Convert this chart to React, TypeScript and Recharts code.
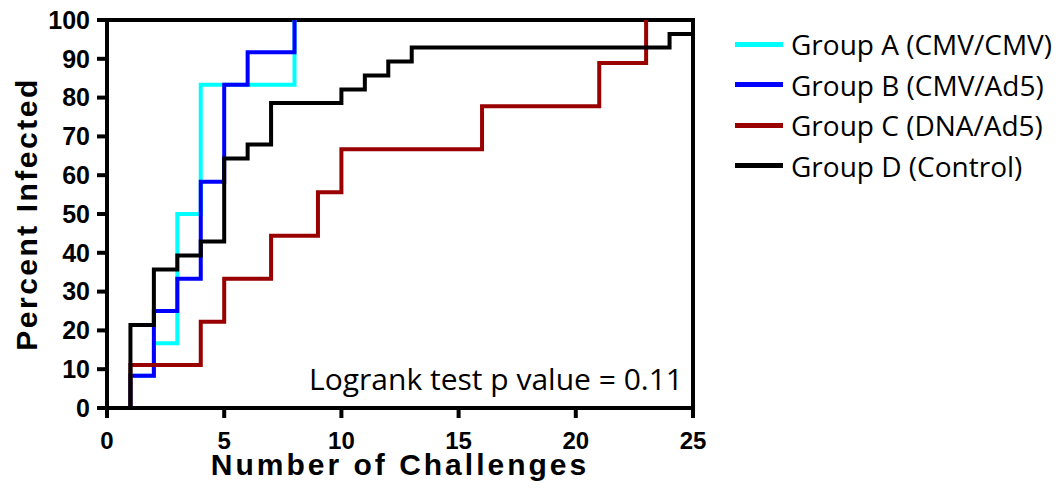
import {
  LineChart,
  Line,
  XAxis,
  YAxis,
  ReferenceArea,
  Legend,
} from "recharts";

// step points (challenge number, % infected)
const groupAX = [0, 1, 2, 3, 4, 8];
const groupAY = [0, 8.3, 16.7, 50, 83.3, 100];

const groupBX = [0, 1, 2, 3, 4, 5, 6, 8];
const groupBY = [0, 8.3, 25, 33.3, 58.3, 83.3, 91.7, 100];

const groupCX = [0, 1, 4, 5, 7, 9, 10, 16, 21, 23];
const groupCY = [0, 11.1, 22.2, 33.3, 44.4, 55.6, 66.7, 77.8, 88.9, 100];

const groupDX = [0, 1, 2, 3, 4, 5, 6, 7, 10, 11, 12, 13, 24, 25];
const groupDY = [0, 21.4, 35.7, 39.3, 42.9, 64.3, 67.9, 78.6, 82.1, 85.7, 89.3, 92.9, 96.4, 96.4];

const groupNames = [
  "Group A (CMV/CMV)",
  "Group B (CMV/Ad5)",
  "Group C (DNA/Ad5)",
  "Group D (Control)",
];
const groupColors = ["#00FFFF", "#0000FF", "#990000", "#000000"];

const xTicks = [0, 5, 10, 15, 20, 25];
const yTicks = [0, 10, 20, 30, 40, 50, 60, 70, 80, 90, 100];

const toPoints = (xs: number[], ys: number[]) => xs.map((x, i) => ({ x, y: ys[i] }));

const series = [
  toPoints(groupAX, groupAY),
  toPoints(groupBX, groupBY),
  toPoints(groupCX, groupCY),
  toPoints(groupDX, groupDY),
];

const axisFont = "'Liberation Sans', Arial, sans-serif";
const textFont = "'Open Sans', 'Noto Sans', sans-serif";

function LegendBox() {
  return (
    <div style={{ fontFamily: textFont, fontSize: 28, color: "#000" }}>
      {groupNames.map((name, i) => (
        <div key={name} style={{ display: "flex", alignItems: "center", height: 40.5 }}>
          <span
            style={{
              display: "inline-block",
              width: 48,
              height: 5,
              background: groupColors[i],
              marginRight: 8,
            }}
          />
          <span style={{ whiteSpace: "nowrap", lineHeight: "40px" }}>{name}</span>
        </div>
      ))}
    </div>
  );
}

export default function App() {
  return (
    <div style={{ position: "absolute", left: 0, top: 0, width: 1063, height: 493, background: "#fff" }}>
      <LineChart
        width={1063}
        height={493}
        margin={{ top: 20, right: 370, bottom: 0, left: 10 }}
      >
        <XAxis
          type="number"
          dataKey="x"
          domain={[0, 25]}
          ticks={xTicks}
          allowDataOverflow
          height={85}
          tickSize={10}
          tickMargin={14}
          axisLine={{ stroke: "#000", strokeWidth: 4 }}
          tickLine={{ stroke: "#000", strokeWidth: 4 }}
          tick={{ fill: "#000", fontSize: 24, fontWeight: "bold", fontFamily: axisFont }}
          label={{
            value: "Number of Challenges",
            position: "insideBottom",
            offset: 18,
            fill: "#000",
            fontSize: 30,
            fontWeight: "bold",
            fontFamily: axisFont,
            letterSpacing: 3,
          }}
        />
        <YAxis
          type="number"
          domain={[0, 100]}
          ticks={yTicks}
          width={97}
          tickSize={10}
          tickMargin={7}
          axisLine={{ stroke: "#000", strokeWidth: 4 }}
          tickLine={{ stroke: "#000", strokeWidth: 4 }}
          tick={{ fill: "#000", fontSize: 25, fontWeight: "bold", fontFamily: axisFont }}
          label={{
            value: "Percent Infected",
            position: "insideLeft",
            angle: -90,
            offset: 16,
            fill: "#000",
            fontSize: 30,
            fontWeight: "bold",
            fontFamily: axisFont,
            letterSpacing: 2.5,
            style: { textAnchor: "middle" },
          }}
        />
        <ReferenceArea
          x1={0}
          x2={25}
          y1={0}
          y2={100}
          fill="none"
          stroke="#000"
          strokeWidth={4}
          label={{
            value: "Logrank test p value = 0.11",
            position: "insideBottomRight",
            offset: 10,
            dy: -8,
            fill: "#000",
            fontSize: 30,
            fontFamily: textFont,
          }}
        />
        {series.map((pts, i) => (
          <Line
            key={groupNames[i]}
            data={pts}
            dataKey="y"
            name={groupNames[i]}
            type="stepAfter"
            stroke={groupColors[i]}
            strokeWidth={4}
            dot={false}
            activeDot={false}
            isAnimationActive={false}
          />
        ))}
        <Legend
          layout="vertical"
          align="center"
          verticalAlign="middle"
          wrapperStyle={{ left: 735, top: 24, width: 320, height: "auto" }}
          content={() => <LegendBox />}
        />
      </LineChart>
    </div>
  );
}
